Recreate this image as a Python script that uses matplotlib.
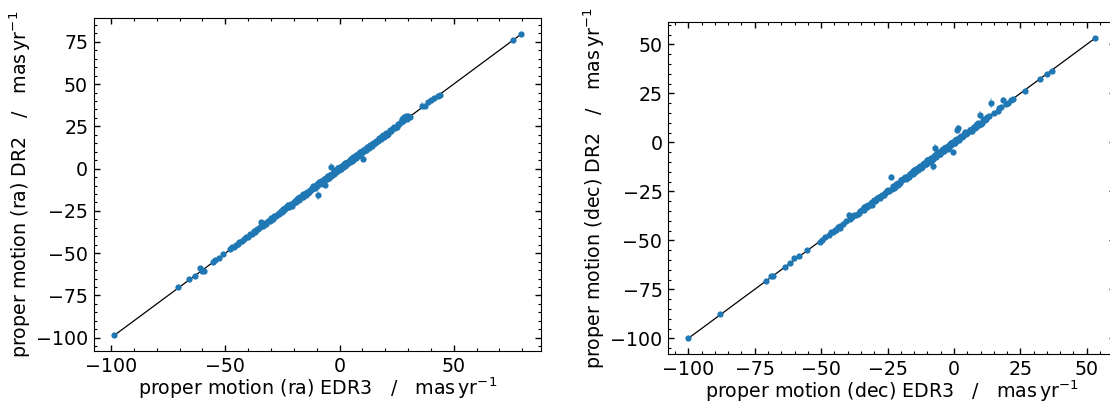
import matplotlib
matplotlib.use("Agg")
import matplotlib.pyplot as plt
from matplotlib.ticker import AutoMinorLocator, MultipleLocator

# Right-ascension proper motions (mas/yr): EDR3 vs DR2, with DR2 uncertainties
pmra_edr3 = [
    -98.7, -70.8, -65.9, -63.1, -61.0, -60.2, -59.5, -55.4, -54.6, -52.8,
    -50.9, -47.8, -46.9, -46.2, -44.6, -43.8, -42.5, -41.0, -40.2, -39.3,
    -38.5, -37.6, -36.9, -35.8, -35.0, -34.2, -33.6, -32.8, -32.1, -31.2,
    -30.5, -29.8, -29.1, -28.4, -27.7, -27.0, -26.3, -25.6, -24.9, -24.2,
    -23.5, -22.8, -22.1, -21.4, -20.7, -20.0, -19.3, -18.6, -17.9, -17.2,
    -16.5, -15.8, -15.1, -14.4, -13.7, -13.0, -12.4, -11.8, -11.2, -10.6,
    -10.0, -9.4, -9.0, -8.5, -8.0, -7.5, -7.0, -6.4, -6.0, -5.5,
    -5.0, -4.5, -4.0, -3.6, -3.2, -2.8, -2.4, -2.0, -1.6, -1.2,
    -0.8, -0.4, 0.0, 0.4, 0.8, 1.2, 1.6, 2.0, 2.5, 3.0,
    3.5, 4.0, 4.6, 5.2, 5.8, 6.4, 7.0, 7.6, 8.2, 8.8,
    9.4, 10.0, 10.3, 10.6, 11.2, 11.8, 12.4, 13.0, 13.6, 14.2,
    14.8, 15.4, 16.0, 16.7, 17.4, 18.1, 18.8, 19.5, 20.3, 21.1,
    21.9, 22.7, 23.6, 24.5, 25.6, 26.8, 27.4, 28.2, 29.3, 30.1,
    31.0, 36.0, 37.4, 38.9, 40.2, 41.5, 43.0, 44.1, 76.0, 79.3,
    -18.2, -14.8, -11.5, -7.8, -4.3, -1.0, 2.2, 5.5, 9.0, 12.8,
    -45.3, -41.7, -36.2, -33.0, -30.1, -28.8, -26.6, -25.2, -23.9, -22.4,
    -21.0, -19.6, -18.9, -17.5, -16.1, -14.7, -13.3, -12.1, -10.9, -9.7,
    -8.8, -7.2, -6.7, -5.8, -5.2, -4.8, -3.8, -3.0, -2.6, -2.2,
    -1.4, -1.0, -0.6, -0.2, 0.2, 0.6, 1.0, 1.4, 1.8, 2.3,
    2.8, 3.3, 3.8, 4.3, 4.9, 5.5, 6.1, 6.7, 7.3, 7.9,
    8.5, 9.1, 9.7, 11.5, 12.1, 13.3, 15.7, 17.1, 19.1, 20.7,
    22.3, 24.0, 25.1, 26.2, 27.8, 29.7,
]
pmra_dr2 = [
    -98.4, -70.2, -65.4, -63.3, -59.0, -60.6, -60.3, -55.0, -54.2, -52.9,
    -50.4, -47.6, -46.3, -46.5, -44.7, -43.2, -42.6, -40.6, -40.5, -38.8,
    -38.7, -37.1, -37.3, -35.5, -34.6, -31.6, -33.9, -32.3, -32.6, -30.7,
    -30.9, -29.2, -29.6, -27.9, -28.2, -26.6, -26.8, -25.1, -23.8, -24.6,
    -23.0, -22.3, -22.5, -20.9, -21.1, -19.6, -19.8, -18.1, -18.4, -16.7,
    -16.9, -15.3, -15.6, -13.9, -14.2, -12.5, -12.9, -11.2, -11.7, -10.1,
    -10.5, -15.8, -8.6, -8.9, -7.5, -7.9, -6.5, -9.8, -5.6, -5.9,
    -4.6, -4.9, -3.5, 1.2, -3.6, -2.3, -2.7, -1.5, -1.9, -0.6,
    -1.1, 0.1, -0.3, 1.0, 0.4, 1.8, 1.2, 2.6, 2.1, 3.6,
    3.1, 4.5, 4.2, 5.8, 5.3, 7.0, 6.5, 8.1, 7.8, 9.3,
    8.9, 10.5, 5.4, 10.2, 11.7, 11.3, 12.9, 12.5, 14.1, 13.1,
    15.3, 15.0, 16.5, 16.2, 17.9, 17.7, 19.4, 18.9, 20.8, 20.6,
    22.5, 22.2, 24.1, 23.9, 26.2, 27.5, 29.6, 30.4, 30.9, 31.3,
    30.6, 37.3, 37.0, 39.5, 40.5, 41.8, 43.2, 43.6, 76.2, 79.4,
    -17.2, -15.6, -10.4, -8.6, -3.5, -0.1, 3.1, 4.6, 9.9, 12.0,
    -45.0, -41.9, -36.0, -32.9, -30.3, -28.3, -26.1, -25.7, -23.4, -21.6,
    -21.9, -18.9, -19.5, -16.9, -16.6, -14.4, -13.7, -11.5, -11.4, -9.3,
    -8.2, -7.6, -6.1, -6.3, -4.4, -5.5, -4.2, -2.5, -3.2, -1.4,
    -1.0, -1.6, 0.4, -0.8, 0.6, -0.2, 1.5, 0.8, 2.3, 1.6,
    3.3, 2.6, 4.2, 3.7, 5.4, 4.8, 6.6, 6.2, 7.8, 7.3,
    9.0, 8.6, 10.1, 11.0, 12.6, 13.8, 15.2, 17.6, 19.6, 20.1,
    22.9, 24.5, 24.9, 26.5, 28.2, 29.4,
]
pmra_dr2_err = [
    0.5, 0.6, 0.7, 0.6, 1.2, 0.8, 0.7, 0.6, 0.9, 0.5,
    0.7, 0.6, 1.0, 0.8, 0.6, 0.9, 0.7, 0.8, 1.1, 0.6,
    0.9, 0.7, 1.3, 0.8, 0.6, 1.0, 0.7, 1.2, 0.8, 0.9,
    1.4, 0.7, 1.0, 0.8, 1.6, 0.9, 0.7, 1.2, 1.8, 0.8,
    1.0, 0.9, 1.5, 0.7, 1.1, 0.8, 2.0, 0.9, 1.2, 0.7,
    1.0, 1.4, 0.8, 1.1, 2.2, 0.9, 1.3, 0.8, 1.0, 1.6,
    0.9, 2.5, 1.1, 1.8, 0.8, 1.2, 1.0, 1.5, 2.4, 0.9,
    1.3, 1.0, 1.7, 1.9, 0.8, 1.2, 2.6, 1.0, 1.4, 0.9,
    1.6, 1.1, 2.0, 0.8, 1.3, 1.0, 1.8, 0.9, 1.2, 1.5,
    1.0, 2.1, 0.8, 1.3, 1.1, 1.7, 0.9, 1.2, 1.0, 1.4,
    0.8, 2.3, 1.0, 1.1, 0.9, 1.6, 1.0, 1.2, 0.8, 1.5,
    1.0, 1.3, 0.9, 2.0, 1.1, 0.8, 1.2, 1.0, 1.4, 0.9,
    1.1, 0.8, 1.3, 1.0, 1.2, 0.9, 1.6, 1.1, 0.8, 1.0,
    0.9, 1.8, 1.2, 0.8, 1.0, 0.7, 0.9, 0.8, 0.6, 0.7,
    1.5, 2.0, 1.2, 1.8, 1.4, 2.2, 1.6, 1.3, 1.9, 1.1,
    0.8, 1.0, 1.2, 0.9, 1.4, 1.1, 0.9, 1.3, 1.0, 1.6,
    1.1, 1.8, 0.9, 1.2, 1.5, 1.0, 1.3, 2.1, 1.1, 1.4,
    1.7, 1.0, 1.9, 1.2, 1.4, 2.3, 1.1, 1.6, 1.3, 1.8,
    1.2, 1.5, 2.0, 1.1, 1.7, 1.3, 1.4, 1.9, 1.0, 1.6,
    1.3, 1.1, 1.5, 1.2, 1.8, 1.0, 1.4, 1.2, 1.6, 1.1,
    1.3, 1.0, 1.7, 1.2, 0.9, 1.4, 1.1, 1.0, 1.3, 0.9,
    1.2, 1.0, 0.9, 1.1, 1.5, 0.8,
]

# Declination proper motions (mas/yr): EDR3 vs DR2, with DR2 uncertainties
pmdec_edr3 = [
    -100.0, -87.9, -70.9, -68.9, -68.0, -63.6, -61.6, -60.3, -58.3, -55.2,
    -50.3, -49.8, -48.5, -45.6, -44.9, -44.3, -43.6, -42.9, -41.8, -39.6,
    -39.0, -38.2, -37.0, -36.3, -35.5, -34.8, -34.0, -33.2, -32.4, -31.6,
    -30.8, -30.0, -29.2, -28.4, -27.6, -26.8, -26.0, -25.2, -24.4, -23.6,
    -23.0, -22.3, -21.6, -20.9, -20.2, -19.5, -18.8, -18.1, -17.4, -16.7,
    -16.0, -15.3, -14.6, -13.9, -13.2, -12.5, -11.8, -11.1, -10.4, -9.7,
    -9.0, -8.3, -7.9, -7.6, -7.2, -6.9, -6.2, -5.5, -4.8, -4.1,
    -3.4, -2.7, -2.0, -1.3, -0.6, -0.5, 0.1, 0.8, 1.1, 1.6,
    1.5, 2.3, 3.1, 3.9, 4.7, 5.5, 6.3, 7.1, 7.9, 8.7,
    9.5, 9.7, 10.4, 11.3, 12.2, 13.1, 14.1, 16.4, 17.6, 18.4,
    19.5, 20.4, 21.4, 22.4, 26.7, 32.4, 35.1, 36.8, 53.1,
    -28.0, -25.6, -22.7, -19.8, -17.0, -14.2, -12.0, -10.0, -8.6, -6.5,
    -5.2, -3.7, -2.3, -1.0, 0.4, 4.3, 6.7, 8.3, -33.7, -31.0,
    -47.0, -46.3, -43.0, -40.5, -37.6, -35.9, -34.4, -32.8, -31.2, -29.6,
    -28.8, -27.2, -26.4, -24.8, -23.3, -21.9, -21.2, -19.9, -18.4, -17.7,
    -16.3, -15.6, -14.9, -13.5, -12.8, -12.2, -11.4, -10.7, -10.1, -9.3,
    -8.7, -8.0, -7.3, -6.6, -5.9, -5.1, -4.4, -3.8, -3.1, -2.4,
    -1.7, -1.0, -0.3, 0.4, 1.2, 1.9, 2.7, 3.5, 4.3, 5.1,
    5.9, 6.6, 7.5, 8.3, 9.1, 10.0, 10.8, 11.7, 12.6, 15.2,
    17.0,
]
pmdec_dr2 = [
    -99.7, -87.8, -70.5, -68.3, -68.0, -63.4, -61.5, -59.0, -58.1, -55.0,
    -50.6, -49.7, -48.3, -45.9, -44.5, -44.6, -43.2, -42.8, -41.9, -37.0,
    -39.2, -37.9, -36.9, -36.6, -35.1, -34.4, -34.3, -32.7, -32.0, -31.9,
    -30.4, -29.6, -29.5, -27.9, -27.3, -27.1, -25.6, -25.0, -24.7, -17.9,
    -22.5, -22.8, -21.2, -20.6, -20.5, -19.1, -18.3, -18.5, -17.0, -16.3,
    -16.4, -14.8, -14.9, -13.4, -12.8, -12.9, -11.3, -10.6, -10.9, -9.2,
    -8.4, -8.8, -12.3, -7.1, -2.9, -6.4, -6.7, -5.0, -4.4, -4.6,
    -2.9, -2.3, -2.5, -0.8, -0.2, -5.0, -0.4, 1.3, 6.3, 7.2,
    1.0, 2.8, 2.7, 4.4, 4.3, 6.0, 5.9, 7.5, 7.4, 9.2,
    9.0, 13.9, 10.0, 11.8, 11.7, 13.4, 20.0, 16.2, 17.9, 21.8,
    19.4, 20.2, 21.7, 22.1, 26.4, 32.4, 34.9, 36.6, 53.1,
    -28.6, -25.1, -23.4, -19.1, -17.9, -13.5, -12.8, -9.1, -9.5, -5.6,
    -6.1, -3.0, -3.2, -0.1, 1.2, 5.1, 6.0, 9.1, -33.0, -31.8,
    -47.2, -45.9, -43.5, -40.2, -37.2, -36.3, -34.0, -33.1, -30.9, -29.9,
    -28.2, -26.7, -26.8, -24.2, -23.7, -21.3, -21.8, -19.3, -17.9, -18.2,
    -15.7, -16.1, -14.3, -14.0, -12.2, -12.7, -10.8, -11.3, -9.5, -9.9,
    -8.0, -8.6, -6.6, -7.3, -5.3, -5.8, -3.8, -4.4, -2.5, -3.0,
    -1.2, -1.6, 0.3, -0.2, 1.7, 1.4, 3.2, 3.0, 4.9, 4.6,
    6.4, 6.1, 8.0, 7.8, 9.7, 9.5, 11.2, 11.4, 12.9, 15.0,
    17.3,
]
pmdec_dr2_err = [
    0.6, 0.7, 0.6, 0.8, 0.7, 0.6, 0.9, 1.2, 0.7, 0.6,
    0.8, 0.7, 1.0, 0.8, 0.9, 0.7, 1.1, 0.8, 0.9, 1.6,
    0.8, 1.0, 0.7, 1.2, 0.9, 0.8, 1.1, 1.3, 0.9, 1.0,
    0.8, 1.2, 1.0, 1.4, 0.9, 1.1, 1.0, 0.8, 1.3, 1.5,
    1.0, 0.9, 1.2, 1.1, 1.5, 0.9, 1.3, 1.0, 1.8, 1.1,
    0.9, 1.4, 1.0, 1.2, 2.0, 1.1, 1.3, 1.0, 1.6, 1.2,
    1.4, 1.0, 2.2, 1.3, 1.8, 1.1, 1.5, 1.2, 2.0, 1.0,
    1.4, 1.6, 1.2, 1.9, 1.1, 1.7, 1.3, 1.0, 1.5, 1.6,
    1.2, 1.0, 1.4, 1.1, 1.3, 1.8, 1.0, 1.2, 1.1, 1.4,
    1.6, 2.0, 1.2, 1.0, 1.3, 1.1, 2.4, 1.2, 1.0, 1.5,
    1.1, 0.9, 1.0, 0.9, 0.8, 0.7, 0.8, 0.7, 0.6,
    1.2, 1.6, 1.1, 1.4, 1.8, 1.2, 1.5, 1.3, 1.9, 1.4,
    1.7, 1.2, 1.6, 1.3, 1.5, 1.2, 1.4, 1.1, 1.0, 1.3,
    0.9, 1.1, 1.0, 1.3, 1.2, 0.9, 1.4, 1.1, 1.0, 1.2,
    1.5, 1.0, 1.3, 1.1, 1.7, 1.2, 1.0, 1.4, 1.2, 1.6,
    1.1, 1.3, 1.9, 1.2, 1.0, 1.5, 1.3, 1.1, 1.8, 1.2,
    1.4, 1.0, 1.6, 1.3, 1.1, 2.0, 1.2, 1.5, 1.0, 1.4,
    1.3, 1.7, 1.1, 1.2, 1.5, 1.0, 1.3, 1.2, 1.6, 1.1,
    1.2, 1.4, 1.0, 1.1, 1.3, 1.2, 0.9, 1.1, 1.0, 0.9,
    0.8,
]

xlabels = [
    r"proper motion (ra) EDR3   /   $\mathrm{mas\,yr^{-1}}$",
    r"proper motion (dec) EDR3   /   $\mathrm{mas\,yr^{-1}}$",
]
ylabels = [
    r"proper motion (ra) DR2   /   $\mathrm{mas\,yr^{-1}}$",
    r"proper motion (dec) DR2   /   $\mathrm{mas\,yr^{-1}}$",
]
major_steps = [(50, 25), (25, 25)]

plt.rcParams["mathtext.fontset"] = "dejavusans"
fig = plt.figure(figsize=(11.10, 4.03), dpi=100)
ax_ra = fig.add_axes([0.0844, 0.1290, 0.4030, 0.8263])
ax_dec = fig.add_axes([0.6018, 0.1216, 0.4030, 0.8238])

panels = [
    (ax_ra, pmra_edr3, pmra_dr2, pmra_dr2_err),
    (ax_dec, pmdec_edr3, pmdec_dr2, pmdec_dr2_err),
]

for i, (ax, x, y, yerr) in enumerate(panels):
    lo, hi = min(x), max(x)
    ax.plot([lo, hi], [lo, hi], color="black", lw=0.9, zorder=1)
    ax.errorbar(x, y, yerr=yerr, fmt="none", ecolor="#1f77b4",
                alpha=0.35, elinewidth=1.3, zorder=2)
    ax.plot(x, y, "o", color="#1f77b4", ms=4.5, mew=0, zorder=3)

    ax.xaxis.set_major_locator(MultipleLocator(major_steps[i][0]))
    ax.yaxis.set_major_locator(MultipleLocator(major_steps[i][1]))
    ax.xaxis.set_minor_locator(AutoMinorLocator(5))
    ax.yaxis.set_minor_locator(AutoMinorLocator(5))
    ax.tick_params(which="both", direction="in", top=True, right=True,
                   labelsize=13.7, pad=4)
    ax.tick_params(which="major", length=4, width=1)
    ax.tick_params(which="minor", length=2.5, width=0.8)
    ax.set_xlabel(xlabels[i], fontsize=13.7, labelpad=0)
    ax.set_ylabel(ylabels[i], fontsize=13.7, labelpad=2)

fig.savefig("out.png", dpi=100)
